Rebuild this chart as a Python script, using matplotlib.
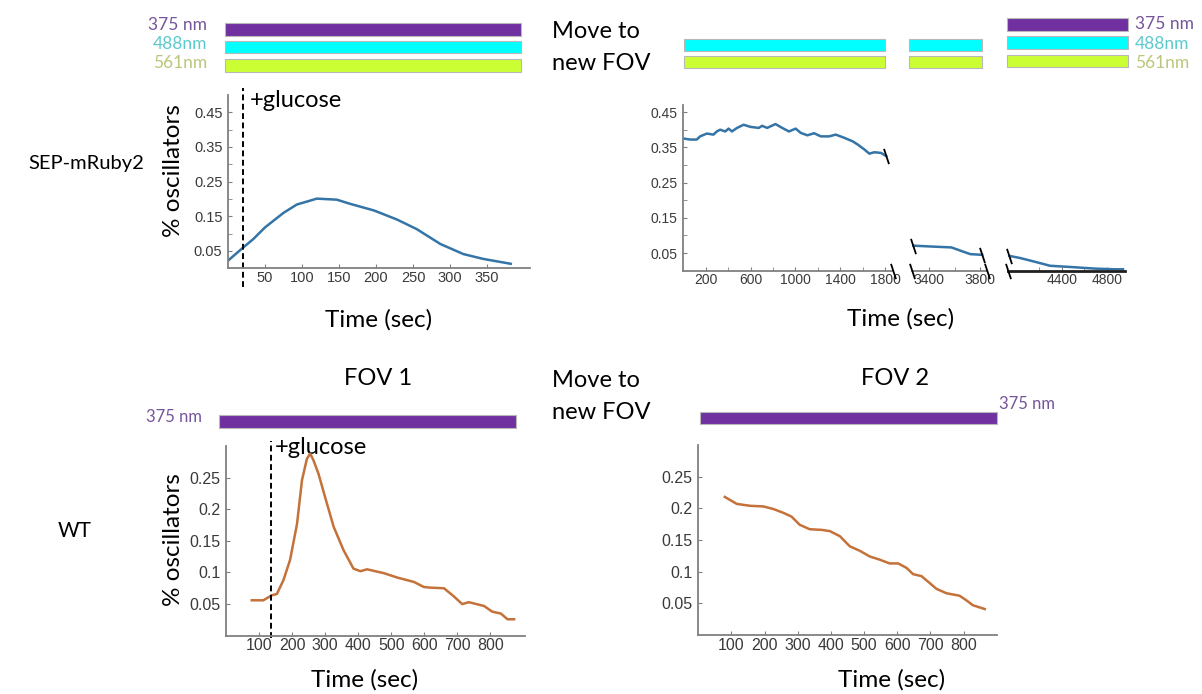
import matplotlib
matplotlib.use("Agg")
import matplotlib.pyplot as plt

# %%
# data
tl_time = [0, 20, 34, 50, 75, 93, 120, 147, 165, 197, 228, 255, 287, 318, 345, 382]
tl_frac = [0.022, 0.059, 0.084, 0.118, 0.160, 0.184, 0.201, 0.198, 0.186, 0.167,
           0.141, 0.113, 0.070, 0.041, 0.027, 0.013]
tl_glucose = 20

tr1_time = [0, 60, 120, 150, 210, 269, 299, 329, 374, 404, 434, 479, 538, 598, 673, 703,
            748, 822, 882, 942, 1002, 1047, 1107, 1166, 1226, 1300, 1360, 1435, 1510,
            1555, 1614, 1659, 1704, 1764, 1809]
tr1_frac = [0.375, 0.372, 0.372, 0.381, 0.389, 0.386, 0.395, 0.400, 0.395, 0.403, 0.395,
            0.405, 0.414, 0.408, 0.405, 0.411, 0.405, 0.416, 0.405, 0.395, 0.403, 0.391,
            0.384, 0.390, 0.381, 0.381, 0.386, 0.377, 0.367, 0.358, 0.344, 0.332, 0.336,
            0.334, 0.325]
tr2_time = [3275, 3450, 3575, 3645, 3724, 3817]
tr2_frac = [0.071, 0.068, 0.066, 0.057, 0.047, 0.045]
tr3_time = [3935, 4030, 4178, 4296, 4504, 4690, 4868, 4945]
tr3_frac = [0.042, 0.036, 0.024, 0.014, 0.010, 0.006, 0.004, 0.004]

bl_time = [78, 113, 139, 154, 174, 194, 215, 230, 245, 255, 265, 280, 300, 326, 356, 386,
           407, 427, 477, 518, 569, 599, 619, 660, 690, 715, 735, 781, 806, 832, 852, 872]
bl_frac = [0.056, 0.056, 0.064, 0.066, 0.088, 0.120, 0.177, 0.246, 0.280, 0.288, 0.277,
           0.256, 0.219, 0.172, 0.135, 0.106, 0.102, 0.105, 0.099, 0.092, 0.085, 0.077,
           0.076, 0.075, 0.062, 0.050, 0.053, 0.047, 0.038, 0.035, 0.026, 0.026]
bl_glucose = 136

br_time = [80, 116, 156, 196, 226, 256, 281, 306, 336, 372, 397, 427, 457, 487, 517, 547,
           577, 603, 628, 648, 673, 698, 718, 748, 788, 808, 828, 864]
br_frac = [0.218, 0.207, 0.204, 0.203, 0.199, 0.193, 0.187, 0.174, 0.167, 0.166, 0.164,
           0.156, 0.140, 0.133, 0.124, 0.119, 0.113, 0.113, 0.106, 0.096, 0.093, 0.082,
           0.073, 0.066, 0.062, 0.055, 0.047, 0.041]

# %%
W, H = 1202, 694
BLUE = "#3474a6"
ORANGE = "#c4713a"
PURPLE, CYAN, LIME = "#7030a0", "#00ffff", "#ccff33"
TXT = "Lato"
TICK = "Liberation Sans"

fig = plt.figure(figsize=(W / 100, H / 100), dpi=100)

# overlay in pixel units for the illumination bars and loose text
ov = fig.add_axes([0, 0, 1, 1])
ov.set_xlim(0, W)
ov.set_ylim(H, 0)
ov.axis("off")

# (left, right, top, bottom, colour) of each illumination bar
bars = [
    (225, 521, 23.3, 35.7, PURPLE), (225, 521, 41, 53.3, CYAN), (225, 521, 59.3, 71.7, LIME),
    (684, 885, 38.5, 50.5, CYAN), (684, 885, 56, 68, LIME),
    (909, 982, 38.5, 50.5, CYAN), (909, 982, 56, 68, LIME),
    (1007, 1128, 18, 31, PURPLE), (1007, 1128, 36, 49, CYAN), (1007, 1128, 54.5, 67, LIME),
    (219, 515.7, 415, 428.3, PURPLE), (700, 996.7, 411.7, 424.3, PURPLE),
]
for x0, x1, t, b, c in bars:
    ov.barh((t + b) / 2, x1 - x0, left=x0, height=b - t, color=c,
            edgecolor="#b8b8b8", linewidth=0.8)

wl_col = {"375 nm": "#75559a", "488nm": "#5ccacd", "561nm": "#bcc67a"}
for lab, y in zip(["375 nm", "488nm", "561nm"], [25, 44, 63]):
    ov.text(207, y, lab, ha="right", va="center", fontsize=12.5, family=TXT, color=wl_col[lab])
for lab, y in zip(["375 nm", "488nm", "561nm"], [24, 43.5, 62.5]):
    ov.text(1135, y, lab, ha="left", va="center", fontsize=12.5, family=TXT, color=wl_col[lab])
ov.text(202, 417, "375 nm", ha="right", va="center", fontsize=12, family=TXT, color=wl_col["375 nm"])
ov.text(999, 404, "375 nm", ha="left", va="center", fontsize=12, family=TXT, color=wl_col["375 nm"])

for y in (31, 380):
    ov.text(552, y, "Move to", ha="left", va="center", fontsize=17, family=TXT)
    ov.text(552, y + 32, "new FOV", ha="left", va="center", fontsize=17, family=TXT)
ov.text(378, 378, "FOV 1", ha="center", va="center", fontsize=17, family=TXT)
ov.text(895, 378, "FOV 2", ha="center", va="center", fontsize=17, family=TXT)
ov.text(28, 163, "SEP-mRuby2", ha="left", va="center", fontsize=14.5, family=TXT)
ov.text(58, 531, "WT", ha="left", va="center", fontsize=15, family=TXT)
ov.text(250, 100, "+glucose", ha="left", va="center", fontsize=17, family=TXT)
ov.text(275, 447, "+glucose", ha="left", va="center", fontsize=17, family=TXT)


def frame(x0, x1, top, bottom):
    ax = fig.add_axes([x0 / W, 1 - bottom / H, (x1 - x0) / W, (bottom - top) / H])
    ax.patch.set_alpha(0)
    for s in ("top", "right"):
        ax.spines[s].set_visible(False)
    for s in ("left", "bottom"):
        ax.spines[s].set_color("#808080")
        ax.spines[s].set_linewidth(1.3)
    ax.tick_params(which="both", direction="in", length=3, color="#808080")
    return ax


def to_axes(ax, px, py):
    b = ax.get_position()
    return (px / W - b.x0) / b.width, ((1 - py / H) - b.y0) / b.height


def style_ticks(ax, size, pad_x=2, pad_y=4):
    ax.tick_params(axis="x", labelsize=size, pad=pad_x, labelcolor="#3a3a3a")
    ax.tick_params(axis="y", labelsize=size, pad=pad_y, labelcolor="#3a3a3a")
    for lab in ax.get_xticklabels() + ax.get_yticklabels():
        lab.set_fontfamily(TICK)


def labels(ax, xpos=None, ypos=None):
    if xpos is not None:
        ax.set_xlabel("Time (sec)", fontsize=17.5, family=TXT, va="center")
        ax.xaxis.set_label_coords(*to_axes(ax, *xpos))
    if ypos is not None:
        ax.set_ylabel("% oscillators", fontsize=17.5, family=TXT, va="center")
        ax.yaxis.set_label_coords(*to_axes(ax, *ypos))


# %% top left: SEP-mRuby2, single FOV
ax = frame(228, 530, 95, 268.3)
ax.plot(tl_time, tl_frac, color=BLUE, lw=1.8)
ax.axvline(tl_glucose, ymin=-0.108, ymax=1.04, clip_on=False, color="k", lw=1.4, ls=(0, (3, 1.8)))
ax.set_xlim(0, 408)
ax.set_ylim(0, 0.5)
ax.set_xticks([50, 100, 150, 200, 250, 300, 350])
ax.set_yticks([0.05, 0.15, 0.25, 0.35, 0.45])
ax.set_yticks([0.1, 0.2, 0.3, 0.4], minor=True)
ax.yaxis.set_major_formatter("{x:.2f}")
style_ticks(ax, 10.5)
labels(ax, (379, 320), (173, 171))

# %% top right: broken time axis over three segments
brk = dict(marker=[(-0.33, 1), (0.33, -1)], markersize=11, linestyle="none",
           mec="k", mew=1.3, clip_on=False, zorder=5)

s1 = frame(683.3, 893, 105, 270.7)
s1.plot(tr1_time, tr1_frac, color=BLUE, lw=1.8)
s1.set_xlim(0, 1870)
s1.set_ylim(0, 0.47)
s1.set_xticks([200, 600, 1000, 1400, 1800])
s1.set_xticks([400, 800, 1200, 1600], minor=True)
s1.set_yticks([0.05, 0.15, 0.25, 0.35, 0.45])
s1.set_yticks([0.1, 0.2, 0.3, 0.4], minor=True)
s1.yaxis.set_major_formatter("{x:.2f}")
s1.plot([tr1_time[-1], 1870], [tr1_frac[-1], 0], **brk)
style_ticks(s1, 10)
labels(s1, (901, 319))

s2 = frame(911.7, 986.7, 105, 270.7)
s2.plot(tr2_time, tr2_frac, color=BLUE, lw=1.8)
s2.set_xlim(3262, 3853)
s2.set_ylim(0, 0.47)
s2.set_xticks([3400, 3800])
s2.set_xticks([3600], minor=True)
s2.spines["left"].set_visible(False)
s2.set_yticks([])
s2.plot([tr2_time[0], tr2_time[-1], 3262, 3853],
        [tr2_frac[0], tr2_frac[-1], 0, 0], **brk)
style_ticks(s2, 10)

s3 = frame(1008.3, 1125, 105, 270.7)
s3.plot(tr3_time, tr3_frac, color=BLUE, lw=1.8)
s3.set_xlim(3925, 4963)
s3.set_ylim(0, 0.47)
s3.set_xticks([4400, 4800])
s3.set_xticks([4200, 4600], minor=True)
s3.spines["left"].set_visible(False)
s3.spines["bottom"].set_color("#202020")
s3.spines["bottom"].set_linewidth(2)
s3.set_yticks([])
s3.plot([tr3_time[0], 3925], [tr3_frac[0], 0], **brk)
style_ticks(s3, 10)

# %% bottom left: WT, FOV 1
ax = frame(226, 525, 446, 635.7)
ax.plot(bl_time, bl_frac, color=ORANGE, lw=1.8)
ax.axvline(bl_glucose, ymin=-0.012, ymax=1.026, clip_on=False, color="k", lw=1.4, ls=(0, (3, 1.8)))
ax.set_xlim(0, 905)
ax.set_ylim(0, 0.3)
ax.set_xticks(range(100, 900, 100))
ax.set_yticks([0.05, 0.1, 0.15, 0.2, 0.25])
ax.yaxis.set_major_formatter("{x:g}")
style_ticks(ax, 11.5)
labels(ax, (365, 680), (173, 540))

# %% bottom right: WT, FOV 2
ax = frame(698.3, 996.7, 445, 635)
ax.plot(br_time, br_frac, color=ORANGE, lw=1.8)
ax.set_xlim(0, 900)
ax.set_ylim(0, 0.3)
ax.set_xticks(range(100, 900, 100))
ax.set_yticks([0.05, 0.1, 0.15, 0.2, 0.25])
ax.yaxis.set_major_formatter("{x:g}")
style_ticks(ax, 11.5)
labels(ax, (892, 680))

fig.savefig("out.png", dpi=100)
